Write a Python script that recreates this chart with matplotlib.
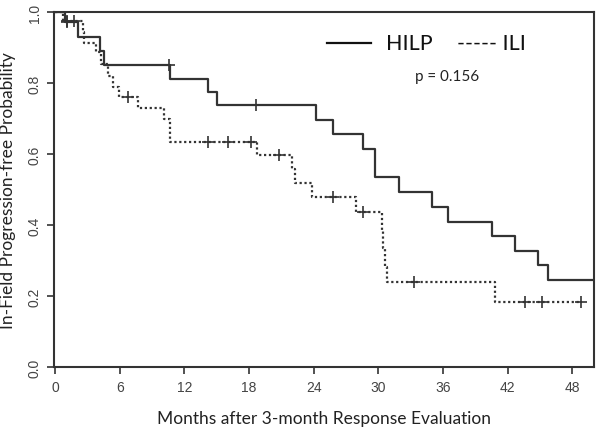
import matplotlib
matplotlib.use("Agg")
import matplotlib.pyplot as plt
import numpy as np

# Kaplan-Meier step data (months, survival)
hilp_t = [0, 0.9, 2.1, 4.2, 4.5, 10.7, 14.2, 15.0, 24.2, 25.8, 28.6, 29.7, 31.9, 35.0, 36.5, 40.5, 42.7, 44.8, 45.7, 50.0]
hilp_s = [1.0, 0.972, 0.93, 0.89, 0.852, 0.813, 0.776, 0.740, 0.697, 0.656, 0.615, 0.535, 0.493, 0.451, 0.41, 0.37, 0.328, 0.288, 0.246, 0.246]
hilp_cens_t = [1.1, 10.6, 18.6]
hilp_cens_s = [0.972, 0.852, 0.740]

ili_t = [0, 0.7, 2.6, 2.7, 3.8, 4.3, 4.9, 5.4, 5.9, 7.7, 10.06, 10.7, 18.7, 22.0, 22.3, 23.8, 27.9,
         30.3, 30.4, 30.6, 30.8, 40.8, 48.75]
ili_s = [1.0, 0.976, 0.945, 0.915, 0.887, 0.855, 0.82, 0.79, 0.762, 0.73, 0.70, 0.636, 0.598, 0.558, 0.519, 0.479, 0.438,
         0.385, 0.335, 0.282, 0.241, 0.185, 0.185]
ili_cens_t = [1.1, 1.8, 6.8, 14.2, 16.0, 18.2, 20.8, 25.8, 28.6, 33.3, 43.6, 45.2, 48.75]
ili_cens_s = [0.976, 0.976, 0.762, 0.636, 0.636, 0.636, 0.598, 0.479, 0.438, 0.241, 0.185, 0.185, 0.185]

xticks = [0, 6, 12, 18, 24, 30, 36, 42, 48]
yticks = [0.0, 0.2, 0.4, 0.6, 0.8, 1.0]

ink = "#333333"

fig = plt.figure(figsize=(6.0, 4.31), dpi=100)
ax = fig.add_axes([0.09, 0.1455, 0.90, 0.8235])

ax.step(hilp_t, hilp_s, where="post", color=ink, lw=1.6)
ax.plot(hilp_cens_t, hilp_cens_s, ls="none", marker="+", ms=8, mew=1.2, color=ink)

ax.step(ili_t, ili_s, where="post", color=ink, lw=1.6, linestyle=(0, (1.0, 1.2)))
ax.plot(ili_cens_t, ili_cens_s, ls="none", marker="+", ms=8, mew=1.2, color=ink)

ax.set_xlim(-0.1, 50.0)
ax.set_ylim(0, 1.0)
ax.set_xticks(xticks)
ax.set_xticklabels([str(v) for v in xticks])
ax.set_yticks(yticks)
ax.set_yticklabels([f"{v:.1f}" for v in yticks], rotation=90, va="center")
ax.tick_params(direction="out", length=5, width=1.2, color=ink, labelcolor="#444444",
               labelsize=10, pad=4)
for lab in ax.get_xticklabels() + ax.get_yticklabels():
    lab.set_family("Liberation Sans")
for sp in ax.spines.values():
    sp.set_color(ink)
    sp.set_linewidth(1.5)

ax.set_xlabel("Months after 3-month Response Evaluation", family="Lato", fontsize=12.5,
              color="#222222", labelpad=12)
ax.set_ylabel("In-Field Progression-free Probability", family="Lato", fontsize=12.5,
              color="#222222", labelpad=8)

# legend drawn as in the original figure
ax.plot([25.2, 29.3], [0.9125, 0.9125], color="#111111", lw=1.6)
ax.text(30.7, 0.9125, "HILP", family="Lato", fontsize=15.5, va="center", ha="left", color="#111111")
ax.text(37.3, 0.9125, "----- ILI", family="Lato", fontsize=15.5, va="center", ha="left", color="#111111")
ax.text(36.4, 0.82, "p = 0.156", family="Lato", fontsize=11, va="center", ha="center", color="#222222")

fig.savefig("out.png", dpi=100)
